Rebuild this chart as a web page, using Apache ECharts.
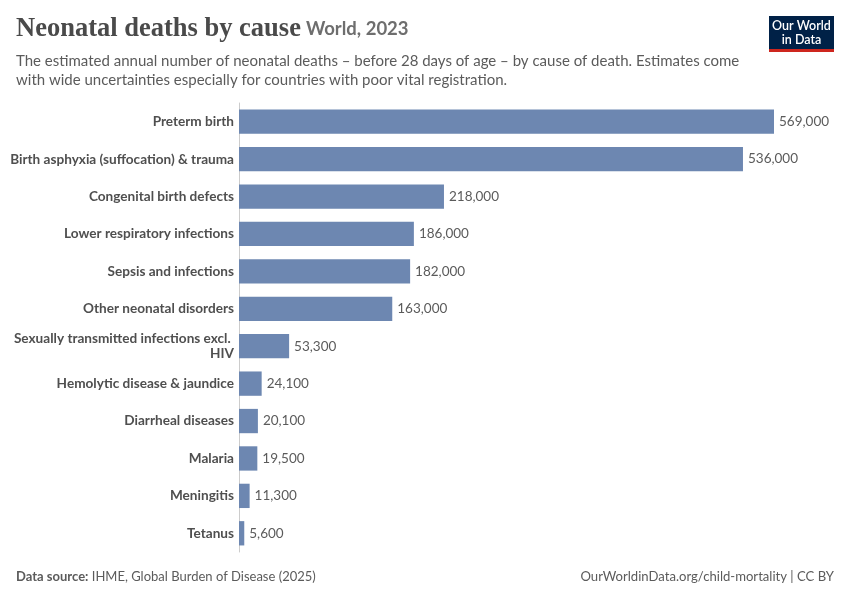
<!DOCTYPE html>
<html>
<head>
<meta charset="utf-8">
<script src="https://cdn.jsdelivr.net/npm/echarts@6/dist/echarts.min.js"></script>
<style>
html,body{margin:0;padding:0;background:#fff;}
#chart{width:850px;height:600px;}
</style>
</head>
<body>
<div id="chart"></div>
<script>
const categories = [
  "Preterm birth",
  "Birth asphyxia (suffocation) & trauma",
  "Congenital birth defects",
  "Lower respiratory infections",
  "Sepsis and infections",
  "Other neonatal disorders",
  "Sexually transmitted infections excl. HIV",
  "Hemolytic disease & jaundice",
  "Diarrheal diseases",
  "Malaria",
  "Meningitis",
  "Tetanus"
];
const deaths = [569000, 536000, 218000, 186000, 182000, 163000, 53300, 24100, 20100, 19500, 11300, 5600];

const chart = echarts.init(document.getElementById('chart'), null, {renderer: 'canvas'});
const option = {
  backgroundColor: '#ffffff',
  animation: false,
  title: [
    {
      text: '{main|Neonatal deaths by cause} {sub|World, 2023}',
      left: 16, top: 16, padding: 0,
      textStyle: {
        rich: {
          main: {fontFamily: 'Liberation Serif', fontWeight: 'bold', fontSize: 26.5, color: '#4a4a4a'},
          sub: {fontFamily: 'Lato', fontSize: 18.5, color: '#6e6e6e'}
        }
      }
    },
    {
      text: 'The estimated annual number of neonatal deaths – before 28 days of age – by cause of death. Estimates come\nwith wide uncertainties especially for countries with poor vital registration.',
      left: 16, top: 52, padding: 0,
      textStyle: {fontFamily: 'Lato', fontSize: 15, fontWeight: 'normal', color: '#5b5b5b', lineHeight: 19}
    },
    {
      text: '{b|Data source:} IHME, Global Burden of Disease (2025)',
      left: 16, top: 570, padding: 0,
      textStyle: {fontFamily: 'Lato', fontSize: 13, fontWeight: 'normal', color: '#5b5b5b',
        rich: {b: {fontFamily: 'Lato', fontSize: 13, fontWeight: 'bold', color: '#5b5b5b'}}}
    },
    {
      text: 'OurWorldinData.org/child-mortality | CC BY',
      right: 16, top: 570, padding: 0,
      textStyle: {fontFamily: 'Lato', fontSize: 13.1, fontWeight: 'normal', color: '#5b5b5b'}
    }
  ],
  graphic: [
    {type: 'rect', left: 769, top: 16, shape: {width: 65, height: 33}, style: {fill: '#002147'}},
    {type: 'rect', left: 769, top: 49, shape: {width: 65, height: 3}, style: {fill: '#ce261e'}},
    {type: 'text', x: 801.5, y: 19, style: {
      text: 'Our World\nin Data', fill: '#ffffff', font: '600 12.5px Lato', align: 'center',
      lineHeight: 14
    }}
  ],
  grid: {left: 239, top: 103, width: 535, height: 449, containLabel: false},
  xAxis: {
    type: 'value', min: 0, max: 569000,
    show: false
  },
  yAxis: {
    type: 'category', inverse: true, data: categories,
    axisLine: {show: true, lineStyle: {color: '#cccccc', width: 1}},
    axisTick: {show: false},
    splitLine: {show: false},
    axisLabel: {
      margin: 5, width: 228, overflow: 'break',
      fontFamily: 'Lato', fontWeight: 'bold', fontSize: 13.6, color: '#4f4f4f', lineHeight: 15
    }
  },
  series: [{
    type: 'bar', data: deaths,
    barCategoryGap: '35%',
    itemStyle: {color: '#6d87b1'},
    label: {
      show: true, position: 'right', distance: 5,
      fontFamily: 'Lato', fontSize: 13.5, color: '#5b5b5b',
      formatter: p => p.value.toLocaleString('en-US')
    }
  }]
};
chart.setOption(option);
</script>
</body>
</html>
